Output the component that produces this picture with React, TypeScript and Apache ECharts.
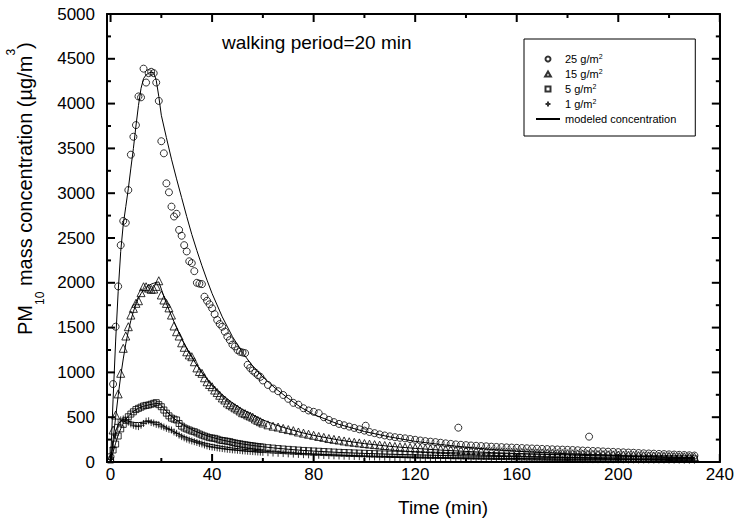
import React, { useEffect, useRef } from 'react';
import * as echarts from 'echarts';

// Measurement times (min)
const T_OBS = [0,1,2,3,4,5,6,7,8,9,10,11,12,13,14,15,16,17,18,19,20,21,22,23,24,25,26,27,28,29,30,31,32,33,34,35,36,37,38,39,40,41,42,43,44,45,46,47,48,49,50,51,52,53,54,55,56,57,58,59,60,62,64,66,68,70,72,74,76,78,80,82,84,86,88,90,92,94,96,98,100,102,104,106,108,110,112,114,116,118,120,122,124,126,128,130,132,134,136,138,140,142,144,146,148,150,152,154,156,158,160,162,164,166,168,170,172,174,176,178,180,182,184,186,188,190,192,194,196,198,200,202,204,206,208,210,212,214,216,218,220,222,224,226,228,230];

// 25 g/m2 (circles)
const C25 = [60,870,1510,1960,2420,2690,2670,3035,3430,3630,3760,4080,4070,4390,4235,4340,4355,4340,4235,4030,3580,3445,3110,3010,2850,2740,2770,2590,2525,2420,2350,2240,2220,2130,2000,1990,1985,1845,1800,1760,1715,1650,1585,1540,1510,1455,1400,1360,1310,1290,1250,1230,1222,1215,1085,1050,1020,997,970,950,910,
860,820,790,748,705,660,640,600,575,560,545,500,470,445,425,410,395,380,365,350,335,322,308,296,286,277,270,264,256,248,240,233,227,222,215,208,202,196,192,188,184,181,178,175,171,168,166,163,161,158,156,153,151,149,146,144,142,140,138,136,134,131,128,126,123,121,118,115,113,110,108,105,103,100,97,95,93,90,88,85,83,80,78,75,72];
const C25_OUTLIERS = [[100.5, 405], [137, 383], [188.5, 283]];

// 15 g/m2 (triangles)
const T15 = [40,357,524,760,990,1269,1406,1510,1640,1715,1771,1800,1890,1956,1956,1940,1927,1930,1960,2023,1864,1808,1770,1720,1640,1518,1454,1406,1330,1280,1230,1195,1175,1119,1050,1010,990,940,896,865,840,803,775,745,715,692,660,640,625,605,590,570,550,540,525,513,500,480,465,450,435,
415,400,390,375,362,350,335,322,310,298,285,275,262,253,245,235,226,220,213,206,200,194,189,184,179,174,170,166,162,158,155,151,148,145,142,139,136,134,131,129,127,124,122,120,118,116,114,112,110,109,107,105,104,102,101,99,98,96,95,93,92,90,89,87,86,84,83,81,80,78,77,75,74,72,71,69,68,66,65,63,62,60,59,57,56];

// 5 g/m2 (squares)
const S5 = [22,134,200,290,370,420,465,505,535,560,585,599,612,625,632,636,645,655,662,640,617,580,545,515,490,478,469,430,400,380,368,357,345,338,325,312,300,290,280,271,267,264,255,245,240,236,231,227,218,212,207,202,197,192,188,184,180,176,172,169,166,
160,155,150,145,141,137,133,129,126,123,120,117,114,111,108,106,104,101,99,97,95,93,91,90,88,86,85,83,82,80,79,78,76,75,74,73,71,70,69,68,67,66,65,64,63,62,61,60,59,58,57,56,55,55,54,53,52,51,51,50,49,48,48,47,46,46,45,44,44,43,42,42,41,41,40,39,39,38,38,37,37,36,36,35,35];

// 1 g/m2 (plus)
const P1 = [30,160,300,420,470,480,470,445,425,410,400,395,410,430,455,460,440,435,420,415,400,390,376,365,357,335,320,300,283,270,256,245,235,227,218,208,201,190,180,172,167,164,158,154,150,146,142,139,136,134,131,128,125,123,120,118,116,114,112,110,108,
104,100,97,94,91,88,85,82,80,77,75,73,71,69,67,65,63,62,60,59,57,56,55,54,52,51,50,49,48,47,46,45,44,43,43,42,41,40,40,39,38,38,37,36,36,35,35,34,34,33,33,32,32,31,31,30,30,29,29,28,28,28,27,27,26,26,26,25,25,25,24,24,24,23,23,23,22,22,22,21,21,21,20,20,20];

// Modeled concentration
const T_MOD = [0,1,2,3,4,5,6,7,8,9,10,11,12,13,14,15,16,17,18,19,20,22,24,26,28,30,32,34,36,38,40,44,48,52,56,60,65,70,75,80,90,100,110,120,130,140,150,160,170,180,190,200,210,220,230];
const M25 = [0,700,1350,1900,2350,2650,2850,3050,3280,3500,3750,3980,4170,4280,4320,4340,4350,4345,4260,4080,3870,3620,3380,3160,2950,2740,2540,2360,2190,2030,1880,1620,1400,1220,1070,950,820,710,610,530,420,340,280,230,195,165,140,120,105,92,80,70,62,55,48];
const M15 = [0,250,500,740,960,1150,1320,1460,1580,1680,1760,1830,1880,1920,1950,1970,1985,1995,2005,2010,1930,1770,1630,1500,1380,1270,1170,1080,1000,925,860,750,660,585,525,470,415,370,330,297,245,205,175,152,133,118,105,95,86,78,71,65,59,54,50];
const M5 = [0,110,210,300,370,430,475,510,540,565,585,600,612,622,630,637,643,648,652,655,630,565,510,465,425,392,362,336,313,293,275,245,221,201,184,170,155,142,131,122,107,96,87,80,73,68,63,59,55,51,48,45,42,40,38];
const M1 = [0,200,340,420,460,470,465,455,448,443,440,440,442,445,448,450,450,448,445,442,420,385,352,323,297,274,254,236,220,206,194,173,156,143,131,121,111,102,94,88,77,68,61,55,50,46,42,39,36,34,32,30,28,27,25];

// Axis ticks
const X_MIN = -1.4;
const X_MAX = 240;
const Y_MAX = 5000;
const X_MAJOR = [0, 40, 80, 120, 160, 200, 240];
const X_MINOR = [20, 60, 100, 140, 180, 220];
const Y_MAJOR = [0, 500, 1000, 1500, 2000, 2500, 3000, 3500, 4000, 4500, 5000];
const Y_MINOR = [250, 750, 1250, 1750, 2250, 2750, 3250, 3750, 4250, 4750];
const LEGEND_NAMES = ['25', '15', '5', '1', 'modeled concentration'];

const FONT = '"Liberation Sans", Arial, Helvetica, sans-serif';
const PLUS = 'path://M5 0L5 10M0 5L10 5';
const TRI = 'path://M5 0L10 8.66L0 8.66Z';
const SQR = 'path://M0 0L10 0L10 10L0 10Z';

function pairs(ts: number[], vs: number[]) {
  return ts.map((t, i) => [t, vs[i]]).filter((p) => p[1] != null);
}

export default function App() {
  const ref = useRef<HTMLDivElement>(null);
  useEffect(() => {
    document.body.style.margin = '0';
    const chart = echarts.init(ref.current as HTMLDivElement, null, { renderer: 'svg' });
    const ls = () => ({ color: '#000', width: 2 });
    const axisLine = () => ({ show: true, onZero: false, lineStyle: ls() });
    const hollow = { color: 'rgba(0,0,0,0)', borderColor: '#000', borderWidth: 1 };
    const xBase = { type: 'value', min: X_MIN, max: X_MAX, splitLine: { show: false }, gridIndex: 0, axisTick: { show: false } };
    const yBase = () => ({
      type: 'value', min: 0, max: Y_MAX, interval: 500, splitLine: { show: false }, axisLine: axisLine(),
      axisTick: { show: false }, minorTick: { show: false },
    });
    const modelLine = (data: number[][]) => ({
      type: 'line', name: 'modeled concentration', data, symbol: 'none', showSymbol: false,
      lineStyle: { color: '#000', width: 1 },
      itemStyle: { color: 'rgba(0,0,0,0)', borderWidth: 0 }, z: 3,
    });
    const tickData = [
      ...Y_MAJOR.map((v) => [0, v]),
      ...Y_MINOR.map((v) => [1, v]),
      ...X_MAJOR.map((v) => [2, v]),
      ...X_MINOR.map((v) => [3, v]),
    ];
    const subRich = {
      m: { fontSize: 20, lineHeight: 41, fontFamily: FONT, fill: '#000' },
      sub: { fontSize: 12, lineHeight: 12, verticalAlign: 'bottom', fontFamily: FONT, fill: '#000' },
      sup: { fontSize: 12, lineHeight: 31, verticalAlign: 'top', fontFamily: FONT, fill: '#000' },
    };
    chart.setOption({
      animation: false,
      backgroundColor: '#fff',
      textStyle: { fontFamily: FONT },
      grid: { left: 107, right: 17, top: 14, bottom: 59, containLabel: false },
      xAxis: [
        { ...xBase, position: 'bottom', axisLine: axisLine(),
          axisLabel: { show: true, customValues: X_MAJOR, color: '#000', fontSize: 17, margin: 4, fontFamily: FONT } },
        { ...xBase, position: 'top', axisLine: axisLine(), axisLabel: { show: false } },
      ],
      yAxis: [
        { ...yBase(), position: 'left',
          axisLabel: { show: true, color: '#000', fontSize: 17, margin: 12, fontFamily: FONT, formatter: (v: number) => String(v) } },
        { ...yBase(), position: 'right', axisLabel: { show: false } },
      ],
      legend: {
        data: [
          { name: LEGEND_NAMES[0], icon: 'circle' },
          { name: LEGEND_NAMES[1], icon: TRI },
          { name: LEGEND_NAMES[2], icon: SQR },
          { name: LEGEND_NAMES[3], icon: PLUS },
          { name: LEGEND_NAMES[4] },
        ],
        orient: 'vertical', left: 524, top: 39,
        borderColor: '#000', borderWidth: 1, padding: [14, 19, 11, 11],
        itemWidth: 24, itemHeight: 5, itemGap: 3, selectedMode: false, symbolKeepAspect: true,
        formatter: (n: string) => (n === 'modeled concentration' ? n : n + ' g/m{sup|2}'),
        textStyle: {
          color: '#000', fontSize: 11, lineHeight: 12, fontFamily: FONT,
          rich: { sup: { fontSize: 7, lineHeight: 4, verticalAlign: 'top', color: '#000', fontFamily: FONT } },
        },
      },
      graphic: [
        {
          type: 'text', x: 25, y: 335, rotation: Math.PI / 2,
          style: {
            text: '{m|PM}{sub|10}{m| mass concentration (µg/m}{sup|3}{m|)}',
            rich: subRich, fill: '#000', align: 'left', verticalAlign: 'middle',
          },
        },
        {
          type: 'text', x: 398, y: 507,
          style: { text: 'Time (min)', fontSize: 19, fontFamily: FONT, fill: '#000', align: 'left', verticalAlign: 'middle' },
        },
        {
          type: 'text', x: 222, y: 42,
          style: { text: 'walking period=20 min', fontSize: 19, fontFamily: FONT, fill: '#000', align: 'left', verticalAlign: 'middle' },
        },
      ],
      series: [
        { type: 'scatter', name: '25', symbol: 'circle', symbolSize: 7, itemStyle: hollow,
          data: pairs(T_OBS, C25).concat(C25_OUTLIERS) },
        { type: 'scatter', name: '15', symbol: 'triangle', symbolSize: 8, itemStyle: hollow,
          data: pairs(T_OBS, T15) },
        { type: 'scatter', name: '5', symbol: 'rect', symbolSize: 6, itemStyle: hollow,
          data: pairs(T_OBS, S5) },
        { type: 'scatter', name: '1', symbol: PLUS, symbolSize: 7, itemStyle: hollow,
          data: pairs(T_OBS, P1) },
        modelLine(pairs(T_MOD, M25)),
        modelLine(pairs(T_MOD, M15)),
        modelLine(pairs(T_MOD, M5)),
        modelLine(pairs(T_MOD, M1)),
        {
          type: 'custom', silent: true, clip: false, z: 5, data: tickData,
          renderItem: (_p: any, api: any) => {
            const kind = api.value(0);
            const v = api.value(1);
            const len = kind % 2 === 0 ? 8 : 4;
            const st = { fill: '#000' };
            if (kind < 2) {
              const a = api.coord([X_MIN, v]);
              const b = api.coord([X_MAX, v]);
              return {
                type: 'group',
                children: [
                  { type: 'rect', shape: { x: a[0], y: a[1] - 1, width: len, height: 2 }, style: st },
                  { type: 'rect', shape: { x: b[0] - len, y: b[1] - 1, width: len, height: 2 }, style: st },
                ],
              };
            }
            const a = api.coord([v, 0]);
            const b = api.coord([v, Y_MAX]);
            return {
              type: 'group',
              children: [
                { type: 'rect', shape: { x: a[0] - 1, y: a[1] - len, width: 2, height: len }, style: st },
                { type: 'rect', shape: { x: b[0] - 1, y: b[1], width: 2, height: len }, style: st },
              ],
            };
          },
        },
      ],
    });
    return () => chart.dispose();
  }, []);
  return (
    <div
      ref={ref}
      style={{ position: 'fixed', left: 0, top: 0, width: 737, height: 521, background: '#fff' }}
    />
  );
}
